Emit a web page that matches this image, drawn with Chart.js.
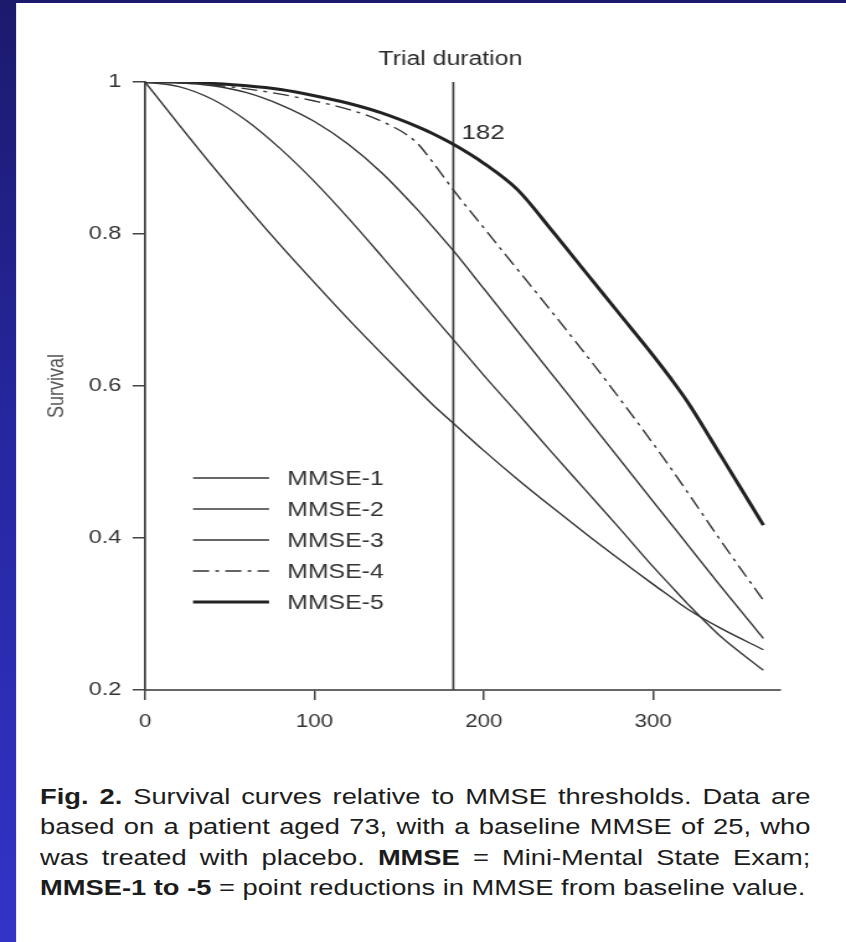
<!DOCTYPE html>
<html>
<head>
<meta charset="utf-8">
<script src="https://cdn.jsdelivr.net/npm/chart.js@4.4.0/dist/chart.umd.min.js"></script>
<style>
html,body{margin:0;padding:0;}
body{width:846px;height:942px;overflow:hidden;position:relative;
  background:linear-gradient(to bottom,#1c1a6c 0%,#2626a0 45%,#3333c8 100%);}
#stretch{position:absolute;left:0;top:0;width:682px;height:942px;transform:scaleX(1.2405);transform-origin:0 0;}
#panel{position:absolute;left:12.9px;top:3px;right:0;bottom:0;background:#fff;}
#c{position:absolute;left:0;top:0;}
#caption{position:absolute;left:32.3px;top:782px;width:621px;
  font-family:"Liberation Sans",Arial,Helvetica,sans-serif;font-size:22px;line-height:30.3px;color:#1c1c1c;}
#caption .j{text-align:justify;text-align-last:justify;}
#caption .l{white-space:nowrap;}
</style>
</head>
<body>
<div id="stretch">
  <div id="panel"></div>
  <canvas id="c" width="682" height="760"></canvas>
  <div id="caption">
    <div class="j"><b>Fig. 2.</b> Survival curves relative to MMSE thresholds. Data are</div>
    <div class="j">based on a patient aged 73, with a baseline MMSE of 25, who</div>
    <div class="j">was treated with placebo. <b>MMSE</b> = Mini-Mental State Exam;</div>
    <div class="l"><b>MMSE-1 to -5</b> = point reductions in MMSE from baseline value.</div>
  </div>
</div>
<script>
// ---- data ----
const days  = [0, 20, 40, 60, 80, 100, 120, 140, 160, 170, 182, 200, 220, 240, 260, 280, 300, 310, 320, 340, 365];
const mmse1 = [1, 0.944, 0.889, 0.836, 0.785, 0.736, 0.688, 0.642, 0.597, 0.575, 0.551, 0.515, 0.477, 0.441, 0.406, 0.372, 0.339, 0.323, 0.307, 0.281, 0.253];
const mmse2 = [1, 0.994, 0.977, 0.949, 0.912, 0.869, 0.821, 0.770, 0.718, 0.692, 0.661, 0.614, 0.564, 0.513, 0.463, 0.413, 0.362, 0.338, 0.314, 0.270, 0.226];
const mmse3 = [1, 0.999, 0.995, 0.986, 0.970, 0.948, 0.918, 0.880, 0.834, 0.809, 0.778, 0.728, 0.672, 0.616, 0.560, 0.504, 0.448, 0.420, 0.392, 0.336, 0.268];
const mmse4 = [1, 0.999, 0.996, 0.991, 0.984, 0.975, 0.964, 0.948, 0.921, 0.894, 0.858, 0.808, 0.753, 0.698, 0.642, 0.584, 0.524, 0.493, 0.461, 0.396, 0.318];
const mmse5 = [1, 1.000, 0.998, 0.995, 0.990, 0.982, 0.972, 0.959, 0.942, 0.932, 0.918, 0.893, 0.858, 0.805, 0.750, 0.695, 0.640, 0.611, 0.580, 0.508, 0.417];
const seriesLabels = ['MMSE-1', 'MMSE-2', 'MMSE-3', 'MMSE-4', 'MMSE-5'];
const xTicks = [0, 100, 200, 300];
const xTickLabels = ['0', '100', '200', '300'];
const yTicks = [0.2, 0.4, 0.6, 0.8, 1];
const yTickLabels = ['0.2', '0.4', '0.6', '0.8', '1'];
const yTitle = 'Survival';
const trialDay = 182;
const trialLabel = 'Trial duration';
const xMin = 0, xMax = 375, yMin = 0.2, yMax = 1;

// ---- styles ----
const FONT = "'Liberation Sans', Arial, Helvetica, sans-serif";
const seriesValues = [mmse1, mmse2, mmse3, mmse4, mmse5];
const seriesStyle = [
  {color: '#333', width: 1.4, dash: []},
  {color: '#3a3a3a', width: 1.4, dash: []},
  {color: '#333', width: 1.4, dash: []},
  {color: '#333', width: 1.4, dash: [13, 5, 3, 5]},
  {color: '#222', width: 3, dash: []}
];

Chart.defaults.font.family = FONT;

const datasets = seriesValues.map((vals, i) => ({
  label: seriesLabels[i],
  data: days.map((d, j) => ({x: d, y: vals[j]})),
  borderColor: seriesStyle[i].color,
  borderWidth: seriesStyle[i].width,
  borderDash: seriesStyle[i].dash,
  pointRadius: 0,
  fill: false,
  showLine: true,
  cubicInterpolationMode: 'monotone'
}));
datasets.push({
  label: trialLabel,
  isRef: true,
  data: [{x: trialDay, y: yMin}, {x: trialDay, y: yMax}],
  borderColor: '#3c3c3c',
  borderWidth: 1.7,
  pointRadius: 0,
  showLine: true,
  tension: 0
});

const legendPlugin = {
  id: 'figLegend',
  afterDraw(chart, args, o) {
    const ctx = chart.ctx, a = chart.chartArea;
    const x0 = a.left + o.offsetX, y0 = a.top + o.offsetY;
    let row = 0;
    chart.data.datasets.forEach(ds => {
      if (ds.isRef) return;
      const y = y0 + row * o.rowH;
      row++;
      ctx.save();
      ctx.strokeStyle = ds.borderColor;
      ctx.lineWidth = ds.borderWidth;
      ctx.setLineDash(ds.borderDash || []);
      ctx.beginPath();
      ctx.moveTo(x0, y);
      ctx.lineTo(x0 + o.lineLen, y);
      ctx.stroke();
      ctx.setLineDash([]);
      ctx.fillStyle = o.color;
      ctx.font = o.font;
      ctx.textBaseline = 'middle';
      ctx.textAlign = 'left';
      ctx.fillText(ds.label, x0 + o.lineLen + o.gap, y + 1);
      ctx.restore();
    });
  }
};

const notePlugin = {
  id: 'trialNote',
  afterDraw(chart, args, o) {
    const ctx = chart.ctx, a = chart.chartArea;
    const x = chart.scales.x.getPixelForValue(trialDay);
    ctx.save();
    ctx.fillStyle = o.color;
    ctx.font = o.font;
    ctx.textBaseline = 'middle';
    ctx.textAlign = 'center';
    ctx.fillText(trialLabel, x - 2.4, a.top - 23);
    ctx.font = o.numFont;
    ctx.textAlign = 'left';
    ctx.fillText(String(trialDay), x + 6.5, a.top + 51);
    ctx.restore();
  }
};

new Chart(document.getElementById('c'), {
  type: 'scatter',
  data: {datasets},
  options: {
    responsive: false,
    animation: false,
    devicePixelRatio: 1,
    layout: {padding: {left: 0, right: 53, top: 82, bottom: 10}},
    plugins: {
      legend: {display: false},
      tooltip: {enabled: false},
      figLegend: {offsetX: 38.7, offsetY: 396, rowH: 31, lineLen: 61.3, gap: 14.6, color: '#333', font: '20px ' + FONT},
      trialNote: {color: '#2a2a2a', font: '20px ' + FONT, numFont: '21px ' + FONT}
    },
    scales: {
      x: {
        type: 'linear', min: xMin, max: xMax,
        afterBuildTicks: s => { s.ticks = xTicks.map(v => ({value: v})); },
        afterFit: s => { s.height = 60; },
        ticks: {callback: v => xTickLabels[xTicks.indexOf(v)], padding: 11, color: '#333', font: {size: 18}, maxRotation: 0, autoSkip: false},
        grid: {drawOnChartArea: false, drawTicks: true, tickLength: 10, color: '#444', lineWidth: 1.5},
        border: {display: true, color: '#666', width: 2}
      },
      y: {
        type: 'linear', min: yMin, max: yMax,
        afterBuildTicks: s => { s.ticks = yTicks.map(v => ({value: v})); },
        afterFit: s => { s.width = 116.9; },
        ticks: {callback: v => yTickLabels[yTicks.indexOf(v)], padding: 9, color: '#333', font: {size: 19}, autoSkip: false},
        grid: {drawOnChartArea: false, drawTicks: true, tickLength: 10, color: '#444', lineWidth: 1.5},
        border: {display: true, color: '#3c3c3c', width: 1.7},
        title: {display: true, text: yTitle, color: '#555', font: {size: 18}, padding: {top: 35.2, bottom: 0}}
      }
    }
  },
  plugins: [legendPlugin, notePlugin]
});
</script>
</body>
</html>
